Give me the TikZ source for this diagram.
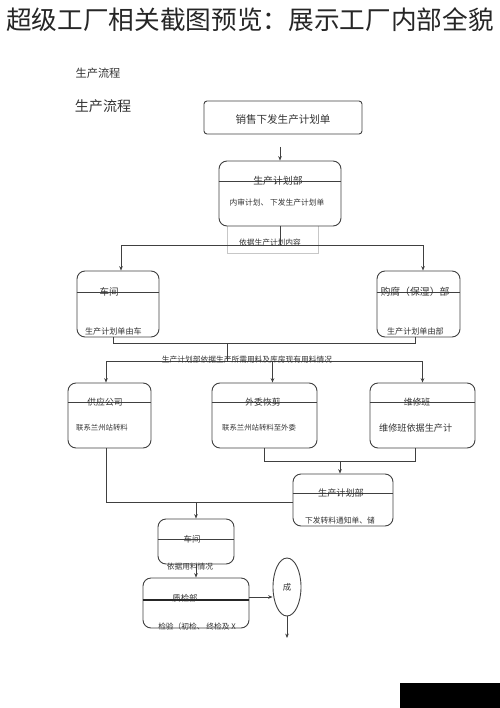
\documentclass[tikz,border=0pt]{standalone}
\usepackage{fontspec}
\newfontfamily\cjk{Noto Sans CJK SC}
\usetikzlibrary{arrows.meta,fit,shapes.geometric}
\def\fs#1{\cjk\fontsize{#1}{#1}\selectfont}

\begin{document}
\begin{tikzpicture}[x=0.5mm, y=-0.5mm,
		line/.style={line width=0.45mm, color=black!75},
		arr/.style={line, -{Stealth[length=2.2mm, width=1.8mm]}},
		box/.style={draw=black!75, line width=0.45mm, rounded corners=4mm, inner sep=0pt},
		txt/.style={inner sep=0pt, text=black!80}]
		%%%%% START %%%%%
		
		\useasboundingbox (0, 0) rectangle (500, 708);
		
		\node[txt, text=black!85, font=\fs{36.5}] (title) at (250, 20) {超级工厂相关截图预览：展示工厂内部全貌};
		\node[txt, font=\fs{16}] (headsmall) at (98, 73) {生产流程};
		\node[txt, font=\fs{20}] (headbig) at (103, 106) {生产流程};
		
		\node[box, rounded corners=1.5mm, fit={(204, 101) (362, 134)}] (sale) {};
		\node[txt, font=\fs{15}] at (283, 120) {销售下发生产计划单};
		\coordinate (saleout) at (280, 147);
		
		\node[draw=black!22, line width=0.4mm, inner sep=0pt, fit={(227, 222) (318, 253)}] (notea) {};
		\node[box, fill=white, fit={(219, 161) (341, 226)}] (plana) {};
		\draw[line] (plana.west |- 0, 181) -- (plana.east |- 0, 181);
		\node[txt, font=\fs{14}] at (278, 181) {生产计划部};
		\node[txt, font=\fs{11}] at (277, 203) {内审计划、 下发生产计划单};
		\draw[arr] (saleout) -- (plana.north);
		
		\coordinate (splita) at (280, 245);
		\draw[line] (plana.south) -- (splita);
		\node[txt, font=\fs{11}] at (270, 243) {依据生产计划内容};
		
		\node[box, fit={(77, 271) (159, 337)}] (shop) {};
		\draw[line] (shop.west |- 0, 292) -- (shop.east |- 0, 292);
		\node[txt, font=\fs{13.5}] at (109, 292) {车间};
		\node[txt, anchor=west, font=\fs{11.5}] at (85, 331) {生产计划单由车};
		
		\node[box, fit={(377, 271) (460, 337)}] (buy) {};
		\draw[line] (buy.west |- 0, 292) -- (buy.east |- 0, 292);
		\node[txt, font=\fs{14}] at (415, 292) {购腐（保湿）部};
		\node[txt, anchor=west, font=\fs{11.5}] at (387, 331) {生产计划单由部};
		
		\draw[arr] (splita) -| ([xshift=1.5mm]shop.north);
		\draw[arr] (splita) -| ([xshift=2.25mm]buy.north);
		
		\coordinate (joinb) at (227, 343);
		\coordinate (splitb) at (227, 361);
		\draw[line] ([xshift=-2.5mm]shop.south) |- (joinb);
		\draw[line] ([xshift=-1.75mm]buy.south) |- (joinb);
		\draw[line] (joinb) -- (splitb);
		
		\node[box, fit={(68, 383) (151, 448)}] (supply) {};
		\draw[line] (supply.west |- 0, 402) -- (supply.east |- 0, 402);
		\node[txt, font=\fs{12.5}] at (105, 402) {供应公司};
		\node[txt, anchor=west, font=\fs{10.5}] at (76, 428) {联系兰州站转料};
		
		\node[box, fit={(212, 383) (317, 448)}] (outs) {};
		\draw[line] (outs.west |- 0, 402) -- (outs.east |- 0, 402);
		\node[txt, font=\fs{12.5}] at (263, 402) {外委恢剪};
		\node[txt, anchor=west, font=\fs{10.5}] at (222, 428) {联系兰州站转料至外委};
		
		\node[box, fit={(370, 383) (475, 448)}] (repair) {};
		\draw[line] (repair.west |- 0, 402) -- (repair.east |- 0, 402);
		\node[txt, font=\fs{12.5}] at (417, 402) {维修班};
		\node[txt, anchor=west, font=\fs{13}] at (379, 428) {维修班依据生产计};
		
		\draw[arr] (splitb) -| ([xshift=-1.75mm]supply.north);
		\draw[arr] (splitb) -| ([xshift=4mm]outs.north);
		\draw[arr] (splitb) -| (repair.north);
		\node[txt, font=\fs{11}] at (247, 360) {生产计划部依据生产所需用料及库房现有用料情况};
		
		\node[box, fit={(293, 474) (393, 526)}] (planb) {};
		\draw[line] (planb.west |- 0, 493) -- (planb.east |- 0, 493);
		\node[txt, font=\fs{13}] at (341, 493) {生产计划部};
		\node[txt, anchor=west, font=\fs{11}] at (305, 521) {下发转料通知单、储};
		
		\coordinate (joinc) at (340, 461);
		\draw[line] (outs.south) |- (joinc);
		\draw[line] ([xshift=-3.75mm]repair.south) |- (joinc);
		\draw[arr] (joinc) -- (joinc |- planb.north);
		\draw[line] ([xshift=-1.75mm]supply.south) |- ([yshift=-1mm]planb.west);
		
		\node[box, fit={(158, 519) (234, 564)}] (shopb) {};
		\draw[line] (shopb.west |- 0, 539) -- (shopb.east |- 0, 539);
		\node[txt, font=\fs{12}] at (192, 539) {车间};
		\coordinate (tapc) at (196, 502);
		\draw[arr] (tapc) -- (shopb.north);
		
		\node[box, fit={(143, 578) (249, 628)}] (qc) {};
		\draw[line width=0.6mm, color=black!85] (qc.west |- 0, 600) -- (qc.east |- 0, 600);
		\node[txt, font=\fs{12}] at (185, 598) {质检部};
		\node[txt, font=\fs{11}] at (197, 627) {检验（初检、 终检及 X};
		\draw[arr] (shopb.south) -- (qc.north);
		\node[txt, font=\fs{11}] at (190, 567) {依据用料情况};
		
		\node[draw=black!75, line width=0.45mm, ellipse, inner sep=0pt, minimum width=14mm, minimum height=29mm, font=\fs{12}, text=black!80] (cheng) at (287, 587) {成};
		\draw[arr] ([yshift=3mm]qc.east) -- ([yshift=3mm]qc.east -| cheng.west);
		\coordinate (chengout) at (287, 638);
		\draw[arr] (cheng.south) -- (chengout);
		
		\fill[black] (400, 683) rectangle (500, 708);
		
		%%%%% END %%%%%
	\end{tikzpicture}
\end{document}
